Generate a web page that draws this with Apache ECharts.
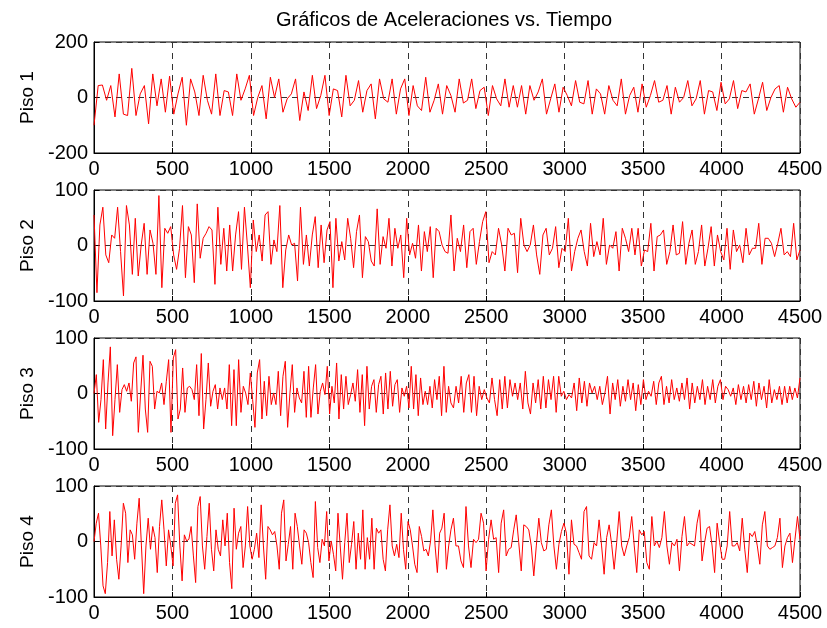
<!DOCTYPE html>
<html>
<head>
<meta charset="utf-8">
<script src="https://cdn.jsdelivr.net/npm/echarts@6/dist/echarts.min.js"></script>
<style>
  html, body { margin: 0; padding: 0; background: #fff; }
  #chart { width: 827px; height: 628px; }
</style>
</head>
<body>
<div id="chart"></div>
<script>
// tiempo: 0..4500, las lecturas se dividen en dos mitades
const T_MAX = 4500;
const T_SPLIT = 2275;
const pisoNames = ['Piso 1', 'Piso 2', 'Piso 3', 'Piso 4'];
const yLimits = [200, 100, 100, 100];

// aceleraciones (mitad izquierda / mitad derecha)
const piso1Left = [-100, 43, 45, -10, 43, -70, 85, -60, -65, 105, -65, 13, 43, -95, 85, -30, 67, -53, 77, -60,
  13, 73, -100, 67, 20, -65, 80, -10, -60, 85, -65, 25, 20, -65, 85, -10, 31, 80, -65, 0,
  43, -77, 73, 0, 67, -53, -5, 13, 67, -83, 20, -47, 80, -40, 7, 80, -65, 31, 25, -70,
  80, -30, -10, 61, -53, 25, 49, -77, 67, -5, -17, 67, -60, 31, 67, -65, 43, -30, -47, 73,
  -53, -10, 49, -60, 43, 7];
const piso1Right = [-53, 67, -20, -10, 67, -40, 25, 37, -65, 43, -5, -30,
  67, -35, 43, -35, 43, -60, 43, -10, 20, 67, -60, -5, 49, -53, 37, 7, -30, 61, -17, -23,
  61, -60, 31, 13, -60, 43, -10, -30, 67, -60, 7, 37, -53, 49, -35, 7, 61, -17, -10, 43,
  -60, 37, -17, 0, 61, -30, -5, 61, -60, 25, 20, -47, 55, -23, -5, 61, -40, 25, 20, 49,
  -60, -5, 55, -47, 0, 31, 43, -53, 37, -5, -35, -17];

const piso2Left = [55, -85, 37, 69, -17, -31, 19, 13, 69, -11, -91, 72, 37, -52, 49, -55, 1, 40, -52, 28,
  4, -52, 90, -76, 31, 22, 34, -17, -43, -5, 72, -58, 34, 19, -67, 75, -23, 13, 22, 34,
  28, -70, 69, -34, 31, -46, 37, -46, 19, 61, -43, 69, 1, -76, 46, -11, 19, -28, 55, 61,
  -34, 10, -11, 72, -76, -8, 19, 1, 4, -64, 69, -34, 19, -37, 19, 52, -40, 37, -31, 28,
  43, -76, 49, -28, 7, -26, 49, 13, -40, 25, 55, -58, 16, 7, -28, -37, 66, -34, 16, -5,
  49, -37, 31, -5, 19, -58, 49, -17, 4, -23, 37, -46, 25, -11, 34, -58, 31, 25, 1, -11,
  -14, 55];
const piso2Right = [-46, 13, -11, 37, -40, 25, 31, -34, 7, 43, 61, -31, -11, -17, 31, 1, -46, 31, 19, 22,
  -49, 49, 1, -11, 1, 37, -17, -52, 19, 31, -17, -5, 34, -40, -5, -11, 49, -46, -11, 13,
  28, -11, -37, 40, -20, 7, -17, 49, -34, 1, -5, 25, -46, 31, 13, -11, 31, -17, 31, -37,
  -8, -11, 40, -46, 16, 19, 28, -34, -11, 37, -17, -14, 43, -34, 4, 28, -34, -11, 37, -37,
  -5, 34, -37, 19, -11, -26, 31, -43, 28, -11, 1, -31, 31, -17, -5, -5, 40, -34, 13, 13,
  4, -20, 4, 31, -17, -11, -20, 40, -26, -8];

const piso3Left = [0, 34, -52, -11, 61, -64, 19, 84, -76, -11, 52, -34, 7, 16, 4, 19, -14, 55, 66, -70,
  1, 69, -28, -70, 58, 49, -28, 4, 1, 19, -20, 22, 61, -70, 64, 79, -46, -28, 46, -34,
  10, 13, 7, -11, 52, -40, 72, -64, -11, 55, -23, 4, 16, -28, 10, -11, 10, -28, 52, -58,
  43, -58, 61, -34, 13, 1, -20, 37, -11, -61, 37, 61, -46, 22, -40, 31, -20, 1, -20, 40,
  -40, 31, 58, -61, 1, 52, -34, 10, -8, -17, 40, -43, 49, -43, 10, 52, -37, 4, 19, -2,
  49, -37, 13, -17, 55, -46, 34, -28, 31, -20, -2, 19, -14, 43, -34, 34, -58, 49, -28, 13,
  25, -34, 16, 31, -37, 37, -28, 40, -23, 16, 25, -34, 10, -5, 13, -26, 49, -28, 34, -40,
  28, -20, 4, -20, 13, -26, 25, -11, 31, -40, 49, -34, 13, -17];
const piso3Right = [-26, 13, -17, 31, -34, 19, 34, -34, 31, -40, 13, -11, 7, -8, -17, 28, -11, -40, 25, -28,
  31, -26, 25, -5, 19, -11, 19, -28, 40, -17, -37, 19, -17, 25, -28, 31, -26, 25, -11, 31,
  -34, 31, -5, 4, -11, -2, -8, 19, -31, 28, -17, 22, -23, 19, 1, 13, -11, 13, -20, 1,
  31, -37, 19, -11, 25, -23, 13, -14, 25, -11, 19, -31, 16, -20, 25, -11, 4, -5, 22, -20,
  19, 31, -20, 13, -17, 25, -11, 10, -14, 19, -11, 28, -28, 19, -17, 13, -11, 25, -20, 13,
  -11, 25, -17, 13, 25, -11, 13, 7, -5, 10, -20, 16, -11, 13, -17, 16, -11, 22, -23, 19,
  -11, 13, -26, 25, -17, 7, -11, 13, -20, 13, -17, 13, -11, 10, -8, 28];

const piso4Left = [0, 33, 51, -8, -80, -94, -38, 54, -26, 39, -32, -68, -8, 69, 51, -38, 21, 12, -32, 33,
  78, -8, -94, -8, 42, -14, 27, 7, -56, 27, 75, 21, -44, 21, -8, -44, 69, 84, -8, -71,
  12, 1, 4, 27, -26, -74, 63, 81, -8, -50, 9, 69, -14, -53, 21, -14, -26, 39, -8, 51,
  -38, -85, 60, -14, 15, 27, -47, -8, 63, -8, -32, -14, 15, -29, 66, -8, -68, 27, 21, 12,
  18, -8, -50, 51, 75, -35, -5, 27, -50, 51, 27, -8, -41, 21, 15, -2, -38, -65, 72, -11,
  -38, 4, -8, 54, -35, 1, -23, -53, 51, -8, -68, -2, 51, -38, -5, 36, -50, 15, -32, 57,
  -50, 7, -32, 42, -50, 24, 15, 21, -32, -53, 21, 66, -8, -26, -5, -29, 51, -14, -50, 36,
  21, -8, -41, -56, 27, 9, -17, -14, -26, 1, 57, -8, -56, 15, 24, 51, -50, -8, 21];
const piso4Right = [42, -8, -8, -35, -47, 63, -8, -47, 4, -2, 4, 51, 33, -53, 4, 39, 4, 7, -56, 33,
  57, -26, -14, -11, 21, 48, -2, -53, 30, 27, 21, -8, -62, -8, 42, -2, -17, -14, 30, 57,
  -8, -50, -5, 18, 33, 15, -59, 39, -5, -8, -20, -32, 54, 63, -26, -32, -2, -8, 39, -8,
  -59, 7, 30, -5, -50, -2, 54, -8, -26, -8, 7, 45, -8, -56, 21, 12, 18, -38, -50, 45,
  -8, 1, -11, 7, 54, -8, -41, -2, -8, 4, -53, 9, 45, -8, -2, -5, -8, 33, 57, -35,
  -2, 24, 27, -8, -56, 33, -2, -32, -32, -8, 54, -8, -8, -2, -17, 42, -14, -56, 15, 9,
  18, -8, -41, 30, 54, -8, -14, -11, -8, 7, 42, -47, -8, 7, 15, -38, 4, 45, 4];

const pisoData = [
  [piso1Left, piso1Right],
  [piso2Left, piso2Right],
  [piso3Left, piso3Right],
  [piso4Left, piso4Right]
];

// asigna el tiempo a cada lectura, repartido en cada mitad
function withTime(left, right) {
  const out = [];
  left.forEach((v, i) => out.push([i * T_SPLIT / (left.length - 1), v]));
  right.forEach((v, i) => out.push([T_SPLIT + (i + 1) * (T_MAX - T_SPLIT) / right.length, v]));
  return out;
}

const chart = echarts.init(document.getElementById('chart'), null, { renderer: 'canvas' });

const tops = [42, 190, 338, 486];
const font = 'Liberation Sans, Arial, sans-serif';
const plain = v => String(v);

const grids = [], xAxes = [], yAxes = [], series = [];
tops.forEach((top, k) => {
  grids.push({
    left: 94, right: 27, top: top, height: 111,
    show: true, borderColor: '#000', borderWidth: 1, backgroundColor: '#fff'
  });
  xAxes.push({
    type: 'value', gridIndex: k, min: 0, max: T_MAX, interval: 500,
    axisLine: { show: true, onZero: false, lineStyle: { color: '#000', width: 1 } },
    axisTick: { show: true, inside: true, length: 5, lineStyle: { color: '#000' } },
    axisLabel: { color: '#000', fontSize: 20, fontFamily: font, margin: 6, formatter: plain },
    splitLine: { show: true, lineStyle: { color: '#333', type: [6, 5], width: 1 } }
  });
  yAxes.push({
    type: 'value', gridIndex: k, min: -yLimits[k], max: yLimits[k], interval: yLimits[k],
    name: pisoNames[k], nameLocation: 'middle', nameGap: 57, nameRotate: 90,
    nameTextStyle: { color: '#000', fontSize: 19, fontFamily: font },
    axisLine: { show: true, lineStyle: { color: '#000', width: 1 } },
    axisTick: { show: true, inside: true, length: 5, lineStyle: { color: '#000' } },
    axisLabel: { color: '#000', fontSize: 20, fontFamily: font, margin: 6, formatter: plain },
    splitLine: { show: true, lineStyle: { color: '#333', type: [6, 5], width: 1 } }
  });
  series.push({
    type: 'line', name: pisoNames[k], xAxisIndex: k, yAxisIndex: k,
    data: withTime(pisoData[k][0], pisoData[k][1]),
    showSymbol: false, symbol: 'none',
    lineStyle: { color: '#ff0000', width: 1 },
    z: 5
  });
});

chart.setOption({
  animation: false,
  backgroundColor: '#fff',
  textStyle: { fontFamily: font },
  title: {
    text: 'Gráficos de Aceleraciones vs. Tiempo',
    left: 439, top: 5, textAlign: 'center',
    textStyle: { color: '#000', fontSize: 20, fontWeight: 'normal', fontFamily: font }
  },
  grid: grids,
  xAxis: xAxes,
  yAxis: yAxes,
  series: series
});
</script>
</body>
</html>
